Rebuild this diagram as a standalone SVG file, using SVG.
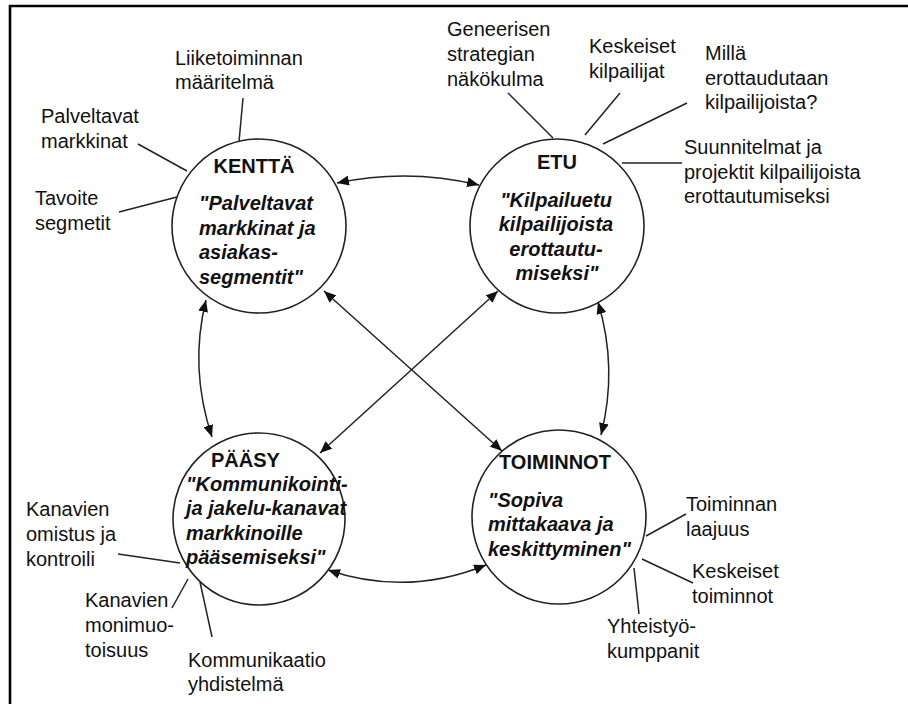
<svg xmlns="http://www.w3.org/2000/svg" width="908" height="704" viewBox="0 0 908 704">
<style>
text{font-family:"Liberation Sans",Arial,sans-serif;font-size:20px;fill:#111}
.t{font-weight:bold}
.q{font-weight:bold;font-style:italic}
.c{fill:#fff;stroke:#222;stroke-width:1.6}
.l{stroke:#222;stroke-width:1.5;fill:none}
.a{stroke:#222;stroke-width:1.5;fill:none;marker-start:url(#ah);marker-end:url(#ah)}
.m{text-anchor:middle}
</style>
<defs>
<marker id="ah" viewBox="0 0 12 10" refX="12" refY="5" markerWidth="12" markerHeight="10" markerUnits="userSpaceOnUse" orient="auto-start-reverse">
<path d="M0,0 L12,5 L0,10 Z" fill="#111"/>
</marker>
</defs>
<rect width="908" height="704" fill="#fff"/>
<path d="M10,704 V6 H908" fill="none" stroke="#000" stroke-width="2.6"/>

<g id="connectors">
<path class="a" d="M337,183 Q408,168 479,185"/>
<path class="a" d="M328,570 Q407,597 486,565"/>
<path class="a" d="M206,300 Q189,368 212,437"/>
<path class="a" d="M598,302 Q618,368 601,435"/>
<path class="a" d="M324,291 L502,451"/>
<path class="a" d="M498,291 L320,453"/>
<!-- spokes -->
<path class="l" d="M243,98 L239,142"/>
<path class="l" d="M138,144 L187,171"/>
<path class="l" d="M119,212 L177,197"/>
<path class="l" d="M508,93 L553,138"/>
<path class="l" d="M620,93 L585,135"/>
<path class="l" d="M687,103 L603,144"/>
<path class="l" d="M682,163 L622,163"/>
<path class="l" d="M118,554 L180,563"/>
<path class="l" d="M188,579 L172,608"/>
<path class="l" d="M200,582 L212,637"/>
<path class="l" d="M686,514 L646,536"/>
<path class="l" d="M693,583 L642,559"/>
<path class="l" d="M639,614 L634,568"/>
</g>

<g id="kentta">
<circle class="c" cx="259" cy="226" r="87"/>
<text class="t m" x="254" y="173">KENTTÄ</text>
<text class="q" x="199" y="210">"Palveltavat</text>
<text class="q" x="199" y="235">markkinat ja</text>
<text class="q" x="199" y="259">asiakas-</text>
<text class="q" x="199" y="284">segmentit"</text>
</g>
<g id="kentta-labels">
<text x="175" y="65">Liiketoiminnan</text>
<text x="175" y="89">määritelmä</text>
<text x="41" y="123">Palveltavat</text>
<text x="41" y="148">markkinat</text>
<text x="35" y="205">Tavoite</text>
<text x="35" y="230">segmetit</text>
</g>

<g id="etu">
<circle class="c" cx="557" cy="226" r="87"/>
<text class="t m" x="557" y="169">ETU</text>
<text class="q m" x="556" y="207">"Kilpailuetu</text>
<text class="q m" x="556" y="231">kilpailijoista</text>
<text class="q m" x="556" y="256">erottautu-</text>
<text class="q m" x="557" y="280">miseksi"</text>
</g>
<g id="etu-labels">
<text x="447" y="36">Geneerisen</text>
<text x="447" y="61">strategian</text>
<text x="447" y="86">näkökulma</text>
<text x="589" y="53">Keskeiset</text>
<text x="589" y="78">kilpailijat</text>
<text x="705" y="60">Millä</text>
<text x="705" y="85">erottaudutaan</text>
<text x="705" y="109">kilpailijoista?</text>
<text x="684" y="154">Suunnitelmat ja</text>
<text x="684" y="179">projektit kilpailijoista</text>
<text x="684" y="203">erottautumiseksi</text>
</g>

<g id="paasy">
<circle class="c" cx="259" cy="519" r="86"/>
<text class="t" x="211" y="467">PÄÄSY</text>
<text class="q" x="186" y="491">"Kommunikointi-</text>
<text class="q" x="186" y="515">ja jakelu-kanavat</text>
<text class="q" x="186" y="540">markkinoille</text>
<text class="q" x="186" y="564">pääsemiseksi"</text>
</g>
<g id="paasy-labels">
<text x="26" y="516">Kanavien</text>
<text x="26" y="541">omistus ja</text>
<text x="26" y="566">kontroili</text>
<text x="85" y="607">Kanavien</text>
<text x="85" y="632">monimuo-</text>
<text x="85" y="657">toisuus</text>
<text x="188" y="667">Kommunikaatio</text>
<text x="188" y="691">yhdistelmä</text>
</g>

<g id="toiminnot">
<circle class="c" cx="559" cy="517" r="87"/>
<text class="t" x="499" y="469">TOIMINNOT</text>
<text class="q" x="488" y="507">"Sopiva</text>
<text class="q" x="488" y="531">mittakaava ja</text>
<text class="q" x="488" y="556">keskittyminen"</text>
</g>
<g id="toiminnot-labels">
<text x="686" y="511">Toiminnan</text>
<text x="686" y="536">laajuus</text>
<text x="692" y="578">Keskeiset</text>
<text x="692" y="603">toiminnot</text>
<text x="607" y="633">Yhteistyö-</text>
<text x="607" y="658">kumppanit</text>
</g>
</svg>
